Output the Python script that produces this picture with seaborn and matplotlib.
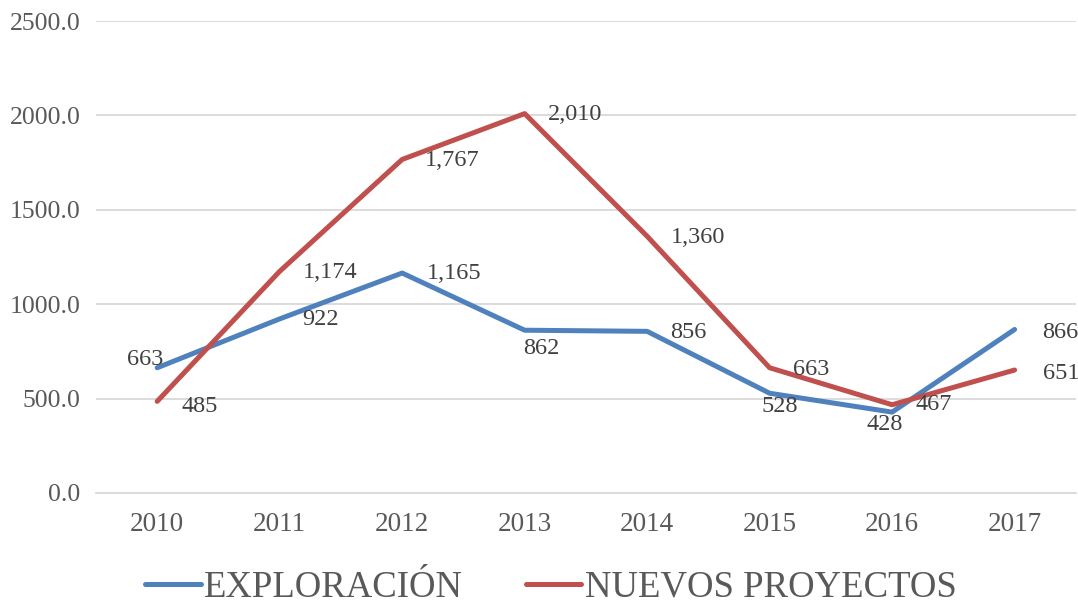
import matplotlib
matplotlib.use("Agg")
import matplotlib.pyplot as plt
import seaborn as sns
import pandas as pd
from matplotlib.lines import Line2D

years = [2010, 2011, 2012, 2013, 2014, 2015, 2016, 2017]
exploracion = [663, 922, 1165, 862, 856, 528, 428, 866]
nuevos = [485, 1174, 1767, 2010, 1360, 663, 467, 651]
series_names = ["EXPLORACIÓN", "NUEVOS PROYECTOS"]
y_ticks = [0, 500, 1000, 1500, 2000, 2500]

sns.set_theme(style="white")
plt.rcParams["font.family"] = ["Liberation Serif", "DejaVu Serif"]

df = pd.DataFrame({
    "year": years * 2,
    "value": exploracion + nuevos,
    "serie": [series_names[0]] * len(years) + [series_names[1]] * len(years),
})

colors = {series_names[0]: "#4F81BD", series_names[1]: "#C0504D"}

fig = plt.figure(figsize=(10.78, 6.04), dpi=100)
ax = fig.add_axes([0.089, 0.184, 0.909, 0.781])
sns.lineplot(data=df, x="year", y="value", hue="serie", palette=colors,
             linewidth=3.6, ax=ax, legend=False)
for line in ax.lines:
    line.set_solid_capstyle("round")
    line.set_solid_joinstyle("round")

ax.set_xlim(years[0] - 0.5, years[-1] + 0.5)
ax.set_ylim(0, 2500)
ax.set_yticks(y_ticks)
ax.set_yticklabels([f"{v:.1f}" for v in y_ticks])
ax.set_xticks(years)
ax.set_xticklabels([str(y) for y in years])
ax.yaxis.grid(True, color="#D9D9D9", linewidth=1.3)
ax.set_axisbelow(True)
for s in ["top", "right", "left"]:
    ax.spines[s].set_visible(False)
ax.spines["bottom"].set_color("#D9D9D9")
ax.spines["bottom"].set_linewidth(1.3)
ax.tick_params(axis="x", length=0, labelsize=19.5, colors="#595959", pad=14)
ax.tick_params(axis="y", length=0, labelsize=18.5, colors="#595959", pad=11)
ax.set_xlabel("")
ax.set_ylabel("")

def fmt(v):
    return f"{v:,}"

# label placement: (ha, dx px, dy px)
exp_pos = [("center", -12, 8), ("left", 23, -1), ("left", 25, 0), ("center", 17, -18),
           ("left", 23, -1), ("center", 10, -13), ("center", -7, -12), ("left", 28, -3)]
nue_pos = [("left", 24, -5), ("left", 23, -1), ("left", 23, -1), ("left", 23, -1),
           ("left", 24, -1), ("left", 23, -2), ("left", 23, 0), ("left", 28, -3)]
for vals, poss in [(exploracion, exp_pos), (nuevos, nue_pos)]:
    for x, v, (ha, dx, dy) in zip(years, vals, poss):
        ax.annotate(fmt(v), (x, v), xytext=(dx, dy), textcoords="offset pixels",
                    ha=ha, va="center", fontsize=17.5, color="#404040")

handles = [Line2D([0], [0], color=colors[n], linewidth=3.6) for n in series_names]
fig.legend(handles, series_names, loc="center", bbox_to_anchor=(0.511, 0.027),
           ncol=2, frameon=False, fontsize=26.5, handlelength=1.5,
           columnspacing=1.7, handletextpad=0.1, labelcolor="#595959")

fig.savefig("out.png", dpi=100, facecolor="white")
